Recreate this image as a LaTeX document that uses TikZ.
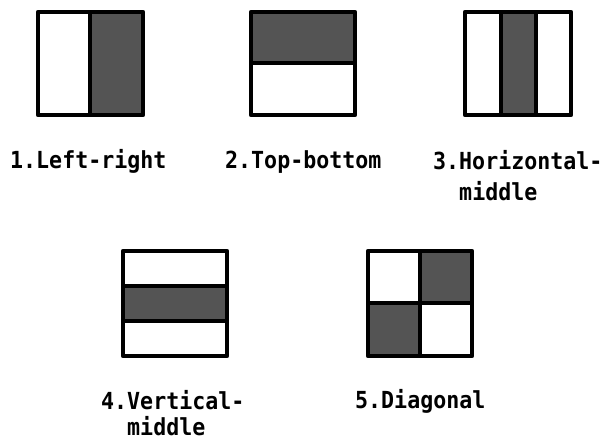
\documentclass[tikz,border=0pt]{standalone}
\usepackage{fontspec}
\setmonofont[FakeStretch=0.92]{DejaVu Sans Mono}
\usepackage{tikz}

\tikzset{
	panel/.style={line width=4.5pt, line join=round},
	split/.style={line width=4pt},
	dark/.style={fill=black!67},
	lab/.style={font=\ttfamily\bfseries\fontsize{23.5}{29}\selectfont, anchor=base west, inner sep=0pt, align=left}
}

\begin{document}
\begin{tikzpicture}[x=1pt, y=-1pt]
	\useasboundingbox (0,0) rectangle (606,441);
	% 1: left-right
	\fill[dark] (90,12) rectangle (143,115);
	\draw[split] (90,12) -- (90,115);
	\draw[panel] (38,12) rectangle (143,115);
	% 2: top-bottom
	\fill[dark] (251,12) rectangle (355,63);
	\draw[split] (251,63) -- (355,63);
	\draw[panel] (251,12) rectangle (355,115);
	% 3: horizontal-middle
	\fill[dark] (501,12) rectangle (536,115);
	\foreach \x in {501,536} {\draw[split] (\x,12) -- (\x,115);}
	\draw[panel] (465,12) rectangle (571,115);
	% 4: vertical-middle
	\fill[dark] (123,286) rectangle (227,321);
	\foreach \y in {286,321} {\draw[split] (123,\y) -- (227,\y);}
	\draw[panel] (123,251) rectangle (227,356);
	% 5: diagonal
	\fill[dark] (420,251) rectangle (472,303.5);
	\fill[dark] (368,303.5) rectangle (420,356);
	\draw[split] (420,251) -- (420,356);
	\draw[split] (368,303.5) -- (472,303.5);
	\draw[panel] (368,251) rectangle (472,356);
	% labels (base = last line)
	\node[lab] (lab1) at (10,169) {1.Left-right};
	\node[lab] (lab2) at (225,169) {2.Top-bottom};
	\node[lab] (lab3) at (433,201) {3.Horizontal-\\[2pt]\phantom{3.}middle};
	\node[lab] (lab4) at (101,435) {4.Vertical-\\[-3pt]\phantom{4.}middle};
	\node[lab] (lab5) at (355,408) {5.Diagonal};
\end{tikzpicture}
\end{document}
